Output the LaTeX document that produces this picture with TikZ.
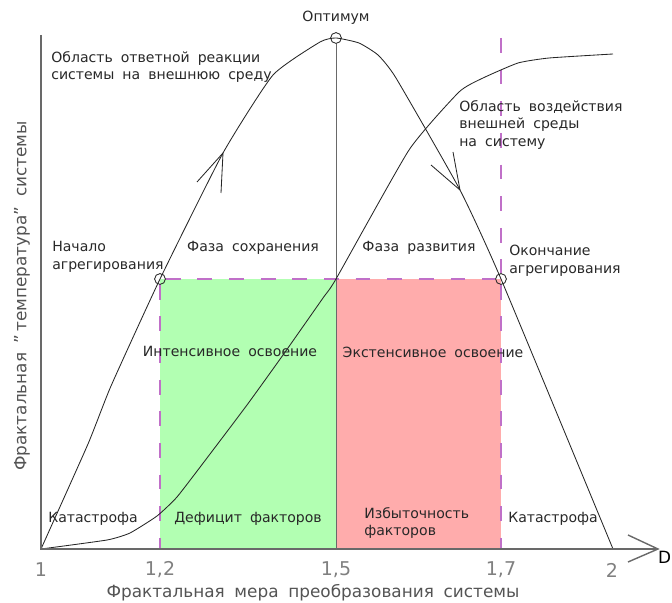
\documentclass[tikz,border=0pt]{standalone}
\usepackage{fontspec}
\setmainfont{DejaVu Sans}[WordSpace=1.8]
\usepackage{xcolor}
\usetikzlibrary{positioning}
\definecolor{zoneg}{RGB}{178,255,178}
\definecolor{zoner}{RGB}{255,172,172}
\definecolor{dashc}{RGB}{192,112,200}
\definecolor{axisc}{RGB}{105,105,105}
\definecolor{txtc}{RGB}{40,40,40}
\tikzstyle{lbl} = [font=\fontsize{10}{12.5}\selectfont, text=txtc, inner sep=0pt, align=left]
\tikzstyle{ticklbl} = [font=\fontsize{13.5}{15}\selectfont, text=axisc!85, inner sep=0pt]
\tikzstyle{axtitle} = [font=\fontsize{12}{14}\selectfont, text=axisc!80!black, inner sep=0pt]
\tikzstyle{ptc} = [circle, draw=black!85, line width=0.6pt, minimum size=0.27cm, inner sep=0pt]
\tikzstyle{curve} = [black!85, line width=0.6pt, line join=round]
\tikzstyle{guide} = [dashc, line width=0.8pt, dash pattern=on 10.5pt off 12pt]
\tikzstyle{axisl} = [axisc, line width=1pt]

\begin{document}
\begin{tikzpicture}[x=0.025cm, y=-0.025cm]
    \useasboundingbox (0,0) rectangle (672,603);
    % zones
    \fill[zoneg] (160,279) rectangle (336,549);
    \fill[zoner] (336,279) rectangle (501,549);
    % axes points
    \coordinate (O) at (41,549);
    \coordinate (Ytop) at (41,35);
    \coordinate (Xend) at (658,549);
    \node[ptc] (opt) at (336,38) {};
    \node[ptc] (agst) at (160,279) {};
    \node[ptc] (agend) at (501,279) {};
    \coordinate (mid) at (336,279);
    % guides
    \draw[guide] (agst) -- (agend);
    \draw[guide] (agst) -- (160,549);
    \draw[guide] (501,38) -- (agend) -- (501,549);
    \draw[axisc, line width=0.6pt] (opt) -- (336,549);
    % response curve
    \draw[curve] plot[smooth, tension=0.3] coordinates {(41,549) (88,444) (111,386) (160,279) (223,153) (273,75) (320,42) (336,38) (359,43) (378,55) (396,78) (460,190) (501,279) (613,549)};
    \draw[curve] (197,182) -- (223,153) -- (221,193);
    \draw[curve] (431,165) -- (460,190) -- (453,152);
    % influence curve
    \draw[curve] plot[smooth, tension=0.3] coordinates {(41,549) (107,540) (130,533) (157,516) (177,497) (207,458) (247,405) (283,355) (323,298) (336,279) (409,150) (459,92) (483,78) (518,63) (549,58) (613,54)};
    % axes
    \draw[axisl] (Ytop) -- (O) -- (Xend);
    \draw[axisl] (628,535) -- (Xend) -- (628,562);
    \node[font=\fontsize{12}{14}\selectfont\rmfamily, inner sep=0pt, anchor=east] (D) at (671.5,557) {D};
    % ticks
    \node[ticklbl] (t1) at (41,570) {1};
    \node[ticklbl] (t2) at (160,570) {1,2};
    \node[ticklbl] (t3) at (336,570) {1,5};
    \node[ticklbl] (t4) at (501,570) {1,7};
    \node[ticklbl] (t5) at (612,570) {2};
    \node[axtitle] (xt) at (313,593) {Фрактальная мера преобразования системы};
    \node[axtitle, rotate=90] (yt) at (22,296) {Фрактальная ”\,температура”\ системы};
    % labels
    \node[lbl] (optl) at (336,18) {Оптимум};
    \node[lbl, anchor=west] (react) at (51,67) {Область ответной реакции\\системы на внешнюю среду};
    \node[lbl, anchor=west] (infl) at (459,125) {Область воздействия\\внешней среды\\на систему};
    \node[lbl, anchor=west] (start) at (52,257) {Начало\\агрегирования};
    \node[lbl, anchor=west] (fin) at (509,261) {Окончание\\агрегирования};
    \node[lbl] (keep) at (253,248) {Фаза сохранения};
    \node[lbl] (dev) at (419,248) {Фаза развития};
    \node[lbl] (intens) at (230,351) {Интенсивное освоение};
    \node[lbl] (extens) at (433,352) {Экстенсивное освоение};
    \node[lbl, anchor=west] (cat1) at (48,519) {Катастрофа};
    \node[lbl] (defic) at (248,519) {Дефицит факторов};
    \node[lbl, anchor=west] (excess) at (364,523) {Избыточность\\факторов};
    \node[lbl, anchor=west] (cat2) at (508,519) {Катастрофа};
\end{tikzpicture}
\end{document}
